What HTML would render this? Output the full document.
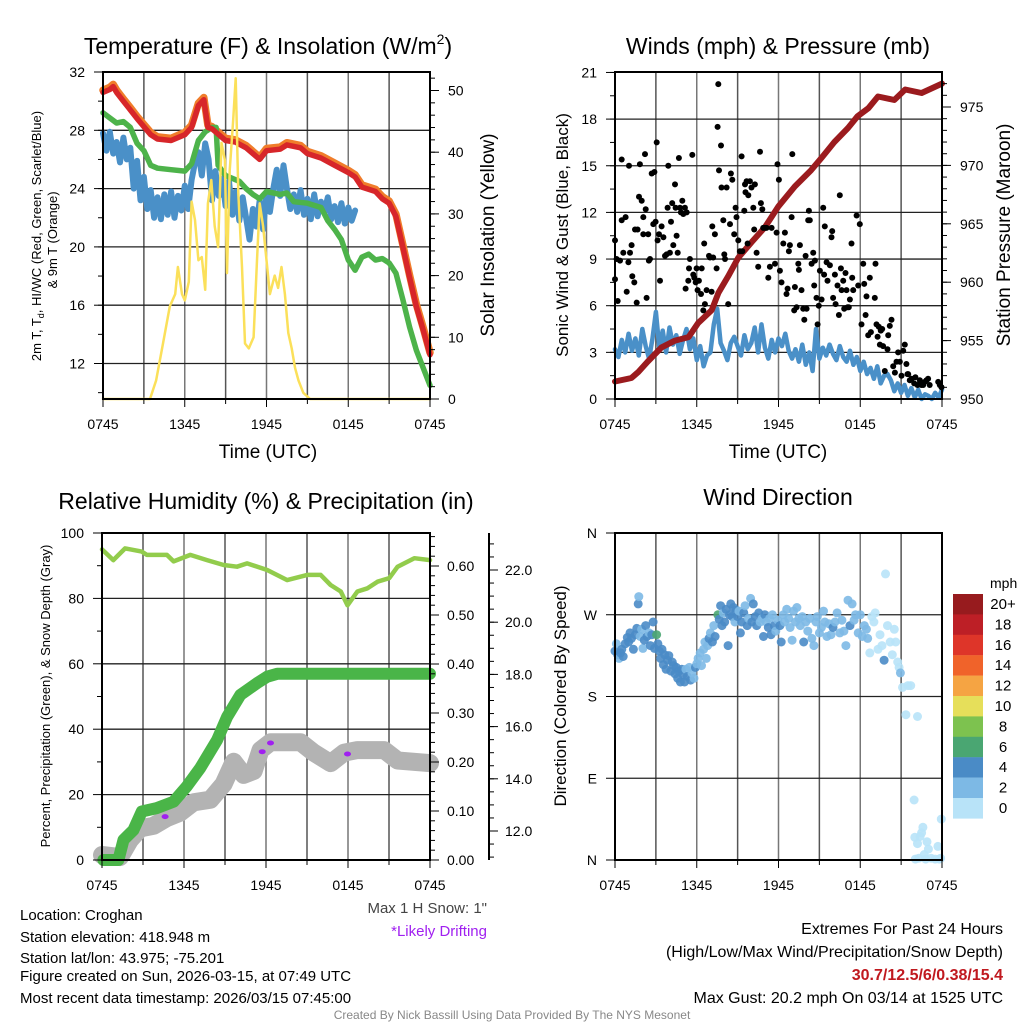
<!DOCTYPE html>
<html><head><meta charset="utf-8"><title>Croghan Mesonet Meteogram</title>
<style>
html,body{margin:0;padding:0;background:#fff;}
svg{display:block;font-family:"Liberation Sans",Arial,sans-serif;}
</style></head>
<body>
<svg id="chart" width="1024" height="1024" viewBox="0 0 1024 1024" xmlns="http://www.w3.org/2000/svg">
<rect width="1024" height="1024" fill="#fff"/>
<g id="g-grid"></g>
<g id="g-data"></g>
<g id="g-axes"></g>
<!-- titles -->
<text x="268" y="54" font-size="23" text-anchor="middle">Temperature (F) &amp; Insolation (W/m<tspan font-size="14" dy="-10">2</tspan><tspan dy="10">)</tspan></text>
<text x="778" y="54" font-size="23" text-anchor="middle">Winds (mph) &amp; Pressure (mb)</text>
<text x="266" y="509" font-size="23" text-anchor="middle">Relative Humidity (%) &amp; Precipitation (in)</text>
<text x="778" y="505" font-size="23" text-anchor="middle">Wind Direction</text>
<!-- x titles -->
<text x="268" y="458" font-size="19" text-anchor="middle">Time (UTC)</text>
<text x="778" y="458" font-size="19" text-anchor="middle">Time (UTC)</text>
<!-- y titles -->
<text transform="translate(41,236) rotate(-90)" font-size="13" text-anchor="middle">2m T, T<tspan font-size="9" dy="3">d</tspan><tspan dy="-3">, HI/WC (Red, Green, Scarlet/Blue)</tspan></text>
<text transform="translate(57,240) rotate(-90)" font-size="13" text-anchor="middle">&amp; 9m T (Orange)</text>
<text transform="translate(494,235) rotate(-90)" font-size="19" text-anchor="middle">Solar Insolation (Yellow)</text>
<text transform="translate(568,235) rotate(-90)" font-size="17" text-anchor="middle">Sonic Wind &amp; Gust (Blue, Black)</text>
<text transform="translate(1010,235) rotate(-90)" font-size="19" text-anchor="middle">Station Pressure (Maroon)</text>
<text transform="translate(50,696) rotate(-90)" font-size="13" text-anchor="middle">Percent, Precipitation (Green), &amp; Snow Depth (Gray)</text>
<text transform="translate(566,696) rotate(-90)" font-size="17" text-anchor="middle">Direction (Colored By Speed)</text>
<!-- notes -->
<text x="487" y="913" font-size="15" fill="#444" text-anchor="end">Max 1 H Snow: 1"</text>
<text x="487" y="936" font-size="15" fill="#a020f0" text-anchor="end">*Likely Drifting</text>
<g font-size="15">
<text x="20" y="920">Location: Croghan</text>
<text x="20" y="942">Station elevation: 418.948 m</text>
<text x="20" y="963">Station lat/lon: 43.975; -75.201</text>
<text x="20" y="981">Figure created on Sun, 2026-03-15, at 07:49 UTC</text>
<text x="20" y="1003">Most recent data timestamp: 2026/03/15 07:45:00</text>
</g>
<g font-size="16" text-anchor="end">
<text x="1003" y="934">Extremes For Past 24 Hours</text>
<text x="1003" y="957">(High/Low/Max Wind/Precipitation/Snow Depth)</text>
<text x="1003" y="980" fill="#c0191f" font-weight="bold">30.7/12.5/6/0.38/15.4</text>
<text x="1003" y="1003">Max Gust: 20.2 mph On 03/14 at 1525 UTC</text>
</g>
<text x="512" y="1019" font-size="12" fill="#888" text-anchor="middle">Created By Nick Bassill Using Data Provided By The NYS Mesonet</text>
</svg>
<script>
// ===== Data =====
const xTickLabels = ["0745","1345","1945","0145","0745"];
// Temperature panel (hours since 0745, value)
const tempHours = [0,0.5,0.75,1,1.5,2,2.5,3,3.5,4,5,6,6.5,7,7.4,7.7,8,8.5,9,9.7,10.5,11.5,12,13,13.5,14.5,15,16,17,18,18.5,19,20,20.5,21,21.5,22,22.5,23,23.5,24];
const temp2m =    [30.6,30.8,31.0,30.6,30.0,29.4,28.8,28.25,27.7,27.4,27.3,27.7,28.2,29.7,30.1,28.2,28.1,27.7,27.3,27.2,26.8,26.0,26.6,26.7,27.0,26.8,26.4,26.1,25.6,25.1,24.8,24.1,23.8,23.3,23.0,22.1,20.0,17.9,15.9,14.3,12.6];
const heatIdxHours = [0,1,1.5,2,2.5,3,3.5,4,5,6,6.5,7,7.5,8,8.3,8.45,9,10,10.5,11,11.5,12,13,13.5,14,15,16,16.5,17,17.5,18,18.5,19,19.5,20,20.5,21,21.5,22,22.5,23,23.5,24];
const heatIdx = [29.2,28.5,28.6,28.2,27.1,26.6,25.6,25.4,25.3,25.2,25.7,27.3,27.9,28.2,28.2,25.6,24.9,24.5,24.0,23.6,23.3,23.8,23.6,23.7,23.1,23.0,22.7,21.8,21.2,20.5,19.1,18.4,19.3,19.5,19.1,19.2,18.9,18.2,16.4,14.5,12.9,11.7,10.5];
const dewPoint = [27.8,26.6,27.9,26.4,27.2,25.8,27.5,26.0,26.8,24.0,25.9,23.2,24.8,22.6,23.9,22.0,23.4,21.9,23.6,22.2,23.8,22.0,23.5,22.5,24.2,22.6,24.6,25.8,26.5,24.9,27.1,26.0,23.2,25.2,23.5,24.7,22.8,24.5,22.2,23.8,21.8,23.4,22.0,20.5,22.6,21.4,23.2,21.2,23.6,22.4,24.0,25.3,23.5,25.6,24.0,22.6,23.6,22.4,23.9,22.2,23.3,21.9,23.6,22.1,23.1,22.4,23.4,21.9,22.8,21.7,23.0,21.6,22.7,21.8,22.5];
const solarHours = [0,3.45,3.9,4.4,4.9,5.3,5.5,5.8,6.0,6.3,6.5,6.75,7.0,7.25,7.5,7.7,7.95,8.2,8.45,8.7,8.95,9.1,9.3,9.55,9.74,9.93,10.2,10.42,10.7,11.05,11.3,11.5,11.75,12.0,12.25,12.6,12.85,13.1,13.35,13.6,13.85,14.1,14.35,14.7,15.2,24];
const solar = [0,0,3,9,15,17,21.4,17,16,19,32,29,22.5,23,17.7,31.7,35.5,28,24.6,41.5,38.7,20.4,37,45,52,33.4,21.4,9,8.2,10,22.5,31.7,28,22.5,17,20,18,21.4,17,10.7,8.2,5,3,1,0,0];
// Winds panel
const windSpeed = [3.2,2.7,3.8,3.0,4.2,3.1,3.9,2.8,4.5,3.4,2.6,3.9,5.6,3.3,4.4,3.0,4.6,3.5,4.1,2.9,3.8,4.5,3.2,3.9,2.5,3.4,2.1,2.8,3.0,4.8,5.8,3.6,3.1,2.5,3.6,4.0,3.4,2.8,4.1,3.2,3.6,4.6,3.0,4.8,3.3,2.6,3.8,3.0,3.9,3.4,4.2,3.1,2.6,3.2,2.4,3.5,2.2,3.0,1.8,4.5,2.6,3.3,2.8,3.5,2.9,2.5,3.4,2.7,2.4,3.1,2.2,2.7,1.8,2.4,1.6,2.0,1.3,2.1,1.0,1.5,1.6,1.2,0.5,1.0,0.4,0.9,0.2,0.7,0.1,0.6,0.0,0.3,0.2,0.0,0.4,0.1,0.6];
const gustHours = [0,0,0.2,0.12,0.37,0.49,0.49,0.61,0.78,0.86,0.98,1.03,1.1,1.22,1.27,1.42,1.47,1.59,1.66,1.76,1.83,1.96,2.08,2.08,2.2,2.25,2.32,2.44,2.49,2.57,2.69,2.81,2.89,2.98,3.06,3.13,3.23,3.3,3.42,3.55,3.67,3.79,3.86,3.91,4.03,4.11,4.2,4.28,4.4,4.45,4.52,4.6,4.69,4.77,4.84,4.94,5.01,5.13,5.18,5.26,5.38,5.43,5.5,5.67,5.75,5.82,5.92,5.99,6.06,6.16,6.31,6.36,6.48,6.55,6.6,6.72,6.9,6.97,7.09,7.14,7.21,7.33,7.46,7.58,7.53,7.63,7.78,7.82,7.95,8.02,8.07,8.19,8.31,8.44,8.51,8.61,8.75,8.85,8.92,9.05,9.17,9.29,9.34,9.49,9.54,9.58,9.66,9.73,9.78,9.9,10.02,10.15,10.22,10.27,10.39,10.51,10.64,10.71,10.81,10.88,11.0,11.12,11.25,11.37,11.49,11.74,11.86,11.93,12.03,12.1,12.22,12.35,12.47,12.59,12.67,12.76,12.84,12.96,13.01,13.15,13.2,13.33,13.45,13.5,13.57,13.69,13.81,13.89,13.99,14.06,14.18,14.23,14.3,14.43,14.55,14.62,14.67,14.79,14.87,14.96,15.04,15.16,15.28,15.35,15.4,15.53,15.6,15.77,15.89,15.94,16.01,16.14,16.19,16.33,16.43,16.5,16.58,16.63,16.75,16.82,16.92,16.99,17.07,17.16,17.24,17.36,17.41,17.48,17.73,17.85,17.97,18.09,18.22,18.29,18.39,18.46,18.58,18.7,18.78,19.07,19.12,19.19,19.27,19.36,19.44,19.51,19.61,19.68,19.8,20.0,20.05,20.17,20.29,20.42,20.54,20.66,20.78,20.9,21.03,21.15,21.27,21.39,21.47,21.52,21.64,21.76,21.96,22.05,22.2,22.37,22.49,22.62,22.74,22.86,22.98,23.1,23.72,23.84,23.96];
const gustSpeed = [10.2,7.7,6.3,9.0,8.9,15.4,11.5,9.4,11.7,6.9,8.8,15.0,9.4,9.9,7.9,7.5,10.9,6.2,10.9,13.0,15.1,12.75,11.7,10.6,15.75,12.2,6.5,10.6,8.9,9.0,14.5,11.25,14.6,11.4,16.5,10.2,10.6,7.6,11.1,10.4,9.2,9.3,12.3,15.0,9.4,11.4,12.6,9.9,13.8,12.3,10.5,9.4,15.5,12.3,12.0,12.75,11.9,12.3,7.1,12.0,7.6,8.4,9.0,15.7,8.0,7.8,7.5,8.4,7.0,7.6,6.75,8.4,5.7,10.0,6.1,7.0,9.2,9.1,6.9,11.1,9.1,10.6,8.4,20.25,17.5,14.7,16.3,13.6,11.5,9.3,9.0,13.6,6.1,11.25,14.5,14.1,10.6,12.3,11.7,10.2,9.5,15.6,9.5,12.1,13.8,13.3,14.0,10.0,13.1,14.0,13.6,12.3,10.9,13.8,9.4,8.5,15.9,12.6,12.2,11.0,11.0,11.0,7.8,8.5,11.0,8.7,10.7,15.1,14.1,8.25,7.5,10.0,10.7,6.75,7.1,9.5,9.9,11.7,15.75,5.7,7.2,5.9,8.7,8.3,9.9,7.0,5.8,5.1,9.2,5.8,11.5,12.1,11.5,8.7,9.4,7.3,8.9,6.5,4.8,6.0,8.25,6.4,12.3,8.0,11.1,8.8,7.6,8.6,10.4,10.8,6.5,8.0,6.1,7.3,5.4,13.1,8.4,7.0,7.6,5.8,8.1,7.0,5.9,5.9,6.4,10.0,7.8,7.0,11.8,7.3,11.25,4.8,8.7,7.4,5.4,6.6,4.1,7.8,4.3,6.5,8.7,4.8,4.0,4.65,3.5,4.4,4.5,3.4,1.8,3.2,4.1,4.7,5.1,2.1,1.7,2.4,3.0,2.4,1.5,3.1,3.5,2.25,1.6,1.6,1.2,1.3,1.0,1.4,0.9,1.2,0.9,0.9,1.1,1.2,1.3,0.9,1.1,0.9,0.75];
const pressHours = [0,1.2,1.7,2.4,3.4,4.4,5.4,6.1,7.1,7.6,8.3,9.05,10,11,12,13.2,14.4,15.2,16.1,17.1,17.8,18.6,19.3,20.5,21.3,22.5,24];
const pressure = [951.5,951.8,952.3,953.2,954.4,955.0,955.3,956.5,957.6,959.1,960.5,962.1,963.4,964.7,966.5,968.2,969.6,970.7,972.0,973.2,974.2,974.9,975.9,975.6,976.5,976.2,977.0];
// Humidity / precip / snow panel
const rhHours = [0,0.83,1.69,2.91,3.28,4.75,5.24,6.46,7.68,8.9,9.88,10.62,12.09,13.55,15.02,16.0,16.73,17.47,17.96,18.69,19.43,20.16,21.02,21.63,22.85,24];
const rh = [95,91.7,95.3,94.3,93.3,93.3,91.3,93.3,91.7,90.2,89.7,90.7,88.7,85.6,87.2,87.2,84.1,82.1,77.9,82.1,83.1,85.1,86.2,89.7,92.3,91.7];
const precipHours = [0.1,1.2,1.57,2.3,2.91,4.0,5.24,6.2,7.19,8.42,9.15,10.13,11.35,12.09,12.82,24];
const precip = [0,0,0.041,0.061,0.099,0.106,0.119,0.15,0.188,0.245,0.292,0.337,0.361,0.374,0.38,0.38];
const snowHours = [0,1.32,2.05,2.79,3.77,4.75,5.72,6.7,7.93,8.9,9.64,10.37,11.1,11.6,12.33,14.53,15.5,16.73,17.71,18.69,20.65,21.63,24];
const snowDepth = [11.08,11.0,11.66,12.1,12.2,12.5,12.7,13.1,13.2,13.8,14.65,14.15,14.3,15.1,15.4,15.4,15.0,14.6,15.0,15.1,15.1,14.7,14.6];
const driftHours = [4.62,11.72,12.33,17.96];
const driftDepth = [12.55,15.04,15.37,14.95];
// Wind direction panel
const dirHours = [0,0.1,0.2,0.3,0.4,0.5,0.6,0.75,0.9,1.0,1.1,1.2,1.35,1.5,1.6,1.7,1.75,1.85,1.95,2.05,2.15,2.25,2.35,2.5,2.6,2.7,2.8,2.9,3.05,3.15,3.25,3.35,3.45,3.55,3.65,3.75,3.85,3.95,4.1,4.2,4.3,4.4,4.5,4.6,4.7,4.8,4.9,5.0,5.1,5.2,5.3,5.45,5.55,5.65,5.8,5.9,6.0,6.1,6.25,6.35,6.5,6.6,6.7,6.8,6.9,7.0,7.15,7.25,7.35,7.55,7.65,7.75,7.85,7.95,8.05,8.15,8.3,8.4,8.5,8.6,8.7,8.8,8.9,9.0,9.1,9.2,9.3,9.45,9.55,9.7,9.8,9.95,10.05,10.15,10.3,10.4,10.55,10.65,10.8,10.9,11.0,11.1,11.25,11.35,11.45,11.55,11.7,11.8,11.95,12.1,12.2,12.35,12.45,12.6,12.75,12.85,13.0,13.1,13.25,13.35,13.5,13.6,13.75,13.85,14.0,14.15,14.3,14.45,14.6,14.75,14.85,15.0,15.15,15.3,15.4,15.55,15.7,15.85,16.0,16.15,16.3,16.5,16.65,16.8,16.95,17.1,17.25,17.4,17.55,17.65,17.85,18.0,18.15,18.3,18.45,18.55,18.7,18.85,19.0,19.1,19.3,19.45,19.6,19.75,19.85,20.0,20.2,20.35,20.5,20.6,20.75,20.85,20.95,21.1,21.35,21.5,21.7,22.2,21.95,22.0,22.05,22.2,22.3,22.5,22.6,22.7,22.8,23.0,23.2,23.5,23.7,23.8,23.95,23.9,22.4,22.9];
const dirDeg = [230,238,226,222,228,232,224,238,245,240,250,244,232,248,255,282,290,246,254,233,242,258,246,250,236,248,262,233,248,238,230,222,232,215,226,210,220,225,208,218,214,205,212,200,208,196,210,204,196,210,202,212,198,206,200,212,216,222,228,214,232,240,222,236,244,250,240,258,246,270,265,280,258,272,262,276,236,270,282,268,278,262,275,268,274,250,262,272,280,258,266,288,262,282,268,258,272,262,266,246,270,262,256,266,248,270,258,252,264,258,240,270,262,276,266,256,242,274,262,278,266,258,268,240,262,252,266,244,236,262,268,250,256,274,262,246,260,248,256,262,272,250,264,252,236,286,258,282,264,270,250,270,246,258,254,244,228,268,262,272,232,248,236,220,315,258,240,226,254,240,218,212,206,190,160,192,192,158,66,25,1,18,2,30,36,6,1,12,2,1,15,1,45,2,26,20];
const dirSpeed = [4,3,4,3,4,5,4,4,5,5,4,4,4,5,4,4,3,3,3,3,4,4,5,3,5,4,4,5,6.5,4,5,4,5,5,4,5,4,5,5,4,5,4,5,4,5,4,5,4,4,3,5,3,4,3,3,4,3,3,3,3,3,3,3,3,4,3,4,3,4,6.5,4,4,4,3,4,4,4,4,4,4,4,3,4,4,3,4,4,4,3,4,3,3,4,4,4,4,4,3,3,4,4,3,4,3,4,3,4,3,3,4,4,3,3,3,3,3,3,3,3,3,3,3,3,4,3,3,3,3,3,3,3,3,3,3,3,3,3,3,4,3,3,3,3,3,3,3,4,3,3,3,3,3,3,2,2,3,1,1,1,1,1,1,1,4,1,1,1,1,1,1,1,1,3,1,1,1,1,1,1,1,0,1,0,1,1,1,0,1,0,0,1,0,1,0,1,1];
const cbarLabels = ["20+","18","16","14","12","10","8","6","4","2","0"];
const cbarColors = ["#971b1e","#bd1f26","#de3529","#f0632a","#f5a443","#e6df5a","#7dc24f","#4aa672","#4a8bc6","#7db9e5","#b8e3f8"];

// ===== Helpers =====
const NS = "http://www.w3.org/2000/svg";
const gGrid = document.getElementById("g-grid");
const gData = document.getElementById("g-data");
const gAxes = document.getElementById("g-axes");
function el(tag, attrs, parent, name, inter) {
  const e = document.createElementNS(NS, tag);
  for (const k in attrs) e.setAttribute(k, attrs[k]);
  
  
  parent.appendChild(e);
  return e;
}
function line(x1,y1,x2,y2,stroke,w,parent,name){
  return el("line",{x1:x1,y1:y1,x2:x2,y2:y2,stroke:stroke,"stroke-width":w},parent,name,false);
}
function text(x,y,s,size,anchor,parent,name,fill){
  const t = el("text",{x:x,y:y,"font-size":size,"text-anchor":anchor,fill:fill||"#000"},parent,name,false);
  t.textContent = s;
  return t;
}
function polyline(xs, ys, sx, sy, stroke, w, parent, name){
  let d = "";
  for (let i=0;i<xs.length;i++) d += (i?"L":"M") + sx(xs[i]).toFixed(1) + "," + sy(ys[i]).toFixed(1);
  return el("path",{d:d,fill:"none",stroke:stroke,"stroke-width":w,"stroke-linejoin":"round","stroke-linecap":"round"},parent,name,false);
}
function speedColor(s){
  const idx = Math.min(10, Math.floor(s/2));
  return cbarColors[10-idx];
}

// ===== Scales =====
const P1 = {l:103,r:430,t:72,b:399};
const P2 = {l:615,r:942,t:72,b:399};
const P3 = {l:102,r:430,t:533,b:860};
const P4 = {l:615,r:942,t:533,b:860};
const x1 = h => P1.l + h*(P1.r-P1.l)/24;
const x2 = h => P2.l + h*(P2.r-P2.l)/24;
const x3 = h => P3.l + h*(P3.r-P3.l)/24;
const x4 = x2;
const yT = v => 72 + (32-v)*58.3/4;
const ySol = v => 399 - v*6.17;
const yW = v => 399 - v*15.55;
const yP = v => 399 - (v-950)*11.68;
const yRH = v => 860 - v*3.27;
const yPr = v => 860 - v*490;
const ySn = v => 831 - (v-12)*26.1;
const yD = d => 860 - d*327/360;
const dewHours = dewPoint.map((_,i)=>i*0.25);
const windHours = windSpeed.map((_,i)=>i*0.25);

// ===== Grids =====
function grid(P, xs, ys, name){
  const g = el("g",{},gGrid,name,false);
  for (let h=0; h<=24; h+=3) line(xs(h),P.t,xs(h),P.b, h%6===0?"#777":"#555",1.5,g,"vertical-gridline");
  ys.forEach(y=>line(P.l,y,P.r,y,"#222",1.3,g,"horizontal-gridline"));
}
grid(P1,x1,[12,16,20,24,28].map(yT),"temp-grid");
grid(P2,x2,[3,6,9,12,15,18].map(yW),"winds-grid");
grid(P3,x3,[20,40,60,80].map(yRH),"humidity-grid");
grid(P4,x4,[90,180,270].map(yD),"direction-grid");

// ===== Series =====
// Panel 1
const sp1 = el("g",{},gData,"temperature-series",false);
polyline(tempHours, temp2m.map(v=>v+0.15), x1, yT, "#f07d2b", 7.5, sp1, "9m-temperature-line");
polyline(dewHours, dewPoint, x1, yT, "#4a90c8", 6, sp1, "dewpoint-line");
polyline(heatIdxHours, heatIdx, x1, yT, "#4db34a", 5.5, sp1, "heat-index-line");
polyline(tempHours, temp2m, x1, yT, "#d7262a", 5.5, sp1, "2m-temperature-line");
polyline(solarHours, solar, x1, ySol, "#fbe05a", 2.5, sp1, "solar-insolation-line");
// Panel 2
const sp2 = el("g",{},gData,"winds-series",false);
polyline(windHours, windSpeed, x2, yW, "#4a90c8", 4.5, sp2, "sonic-wind-line");
polyline(pressHours, pressure, x2, yP, "#9b1b1e", 6, sp2, "pressure-line");
for (let i=0;i<gustHours.length;i++){
  const c = el("circle",{cx:x2(gustHours[i]).toFixed(1),cy:yW(gustSpeed[i]).toFixed(1),r:3,fill:"#000"},sp2,"gust-point",false);
}
// Panel 3
const sp3 = el("g",{},gData,"humidity-series",false);
polyline(snowHours, snowDepth, x3, ySn, "#b3b3b3", 18, sp3, "snow-depth-line");
polyline(precipHours, precip, x3, yPr, "#4ab548", 12, sp3, "precipitation-line");
polyline(rhHours, rh, x3, yRH, "#92cc4c", 4.5, sp3, "relative-humidity-line");
for (let i=0;i<driftHours.length;i++){
  const c = el("ellipse",{cx:x3(driftHours[i]).toFixed(1),cy:ySn(driftDepth[i]).toFixed(1),rx:3.5,ry:2.5,fill:"#a020f0"},sp3,"drifting-marker",false);
}
// Panel 4
const sp4 = el("g",{},gData,"direction-series",false);
for (let i=0;i<dirHours.length;i++){
  const c = el("circle",{cx:x4(dirHours[i]).toFixed(1),cy:yD(dirDeg[i]).toFixed(1),r:4.5,fill:speedColor(dirSpeed[i]),"fill-opacity":0.9},sp4,"direction-point",false);
}

// ===== Axes =====
function frame(P,name){
  const g = el("g",{},gAxes,name,false);
  el("rect",{x:P.l,y:P.t,width:P.r-P.l,height:P.b-P.t,fill:"none",stroke:"#000","stroke-width":2},g,"plot-frame",false);
  return g;
}
function xAxis(P,xs,g){
  for (let h=0; h<=24; h+=3) line(xs(h),P.b,xs(h),P.b+(h%6===0?8:5),"#000",1,g,"x-tick");
  for (let i=0;i<xTickLabels.length;i++) text(xs(i*6),P.b+30,xTickLabels[i],14,"middle",g,"x-tick-label");
}
function yAxisLeft(P,vals,labels,ys,minors,g){
  minors.forEach(v=>line(P.l-5,ys(v),P.l,ys(v),"#000",1,g,"y-minor-tick"));
  vals.forEach((v,i)=>{ line(P.l-9,ys(v),P.l,ys(v),"#000",1,g,"y-tick"); text(P.l-18,ys(v)+5,labels[i],14,"end",g,"y-tick-label"); });
}
function yAxisRight(xa,vals,labels,ys,minors,g,lx){
  minors.forEach(v=>line(xa,ys(v),xa+5,ys(v),"#000",1,g,"y2-minor-tick"));
  vals.forEach((v,i)=>{ line(xa,ys(v),xa+9,ys(v),"#000",1,g,"y2-tick"); text(lx,ys(v)+5,labels[i],14,"start",g,"y2-tick-label"); });
}
function range(a,b,s){const r=[];for(let v=a;v<=b+1e-9;v+=s)r.push(+v.toFixed(3));return r;}

// Panel 1 axes
const a1 = frame(P1,"temp-axes");
xAxis(P1,x1,a1);
yAxisLeft(P1,[12,16,20,24,28,32],["12","16","20","24","28","32"],yT,range(10,30,2),a1);
yAxisRight(P1.r,[0,10,20,30,40,50],["0","10","20","30","40","50"],ySol,range(0,52,2),a1,P1.r+18);
// Panel 2 axes
const a2 = frame(P2,"winds-axes");
xAxis(P2,x2,a2);
yAxisLeft(P2,[0,3,6,9,12,15,18,21],["0","3","6","9","12","15","18","21"],yW,range(0,21,1.5),a2);
yAxisRight(P2.r,[950,955,960,965,970,975],["950","955","960","965","970","975"],yP,range(950,977,1),a2,P2.r+18);
// Panel 3 axes
const a3 = frame(P3,"humidity-axes");
xAxis(P3,x3,a3);
yAxisLeft(P3,[0,20,40,60,80,100],["0","20","40","60","80","100"],yRH,range(10,90,20),a3);
yAxisRight(P3.r,[0,0.1,0.2,0.3,0.4,0.5,0.6],["0.00","0.10","0.20","0.30","0.40","0.50","0.60"],yPr,range(0,0.66,0.02),a3,P3.r+17);
line(489,533,489,860,"#000",2,a3,"snow-axis-spine");
yAxisRight(489,[12,14,16,18,20,22],["12.0","14.0","16.0","18.0","20.0","22.0"],ySn,range(11,23,0.5),a3,505);
// Panel 4 axes
const a4 = frame(P4,"direction-axes");
xAxis(P4,x4,a4);
yAxisLeft(P4,[0,90,180,270,360],["N","E","S","W","N"],yD,[],a4);

// Colorbar
const cb = el("g",{},gAxes,"speed-colorbar",false);
text(990,588,"mph",14,"start",cb,"colorbar-title");
for (let i=0;i<cbarColors.length;i++){
  el("rect",{x:953,y:(594+i*20.4).toFixed(1),width:30,height:20.6,fill:cbarColors[i]},cb,"colorbar-swatch",false);
  text(1003,599+i*20.4+10,cbarLabels[i],15,"middle",cb,"colorbar-label");
}
</script>
</body></html>
